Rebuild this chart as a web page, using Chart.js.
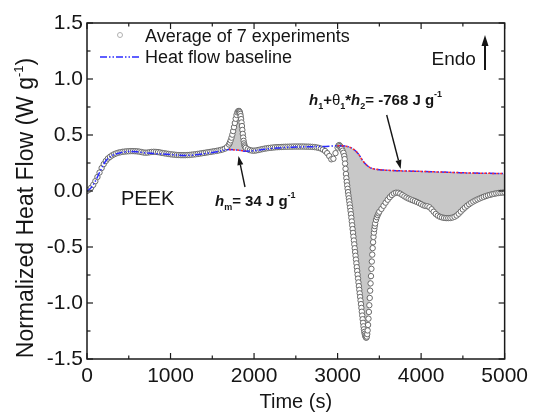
<!DOCTYPE html>
<html><head><meta charset="utf-8">
<script src="https://cdn.jsdelivr.net/npm/chart.js@4.4.1/dist/chart.umd.min.js"></script>
<style>html,body{margin:0;padding:0;background:#fff;}canvas{display:block;}</style>
</head><body>
<canvas id="c" width="533" height="412"></canvas>
<script>
// ---- data ----
const timeS = [
0,25,50,75,100,125,150,175,200,225,250,275,300,325,350,375,400,425,450,475,
500,525,550,575,600,625,650,675,700,725,750,775,800,825,850,875,900,925,950,975,
1000,1025,1050,1075,1100,1125,1150,1175,1200,1225,1250,1275,1300,1325,1350,1375,1400,1425,1450,1475,
1500,1525,1550,1575,1600,1625,1650,1675,1700,
1710,1720,1730,1740,1750,1760,1770,1780,1790,1800,1810,1820,
1825,1830,1835,1840,1845,1850,1855,1860,1865,1870,1875,1880,1885,1890,
1900,
1925,1950,1975,2000,2025,2050,2075,2100,2125,2150,2175,2200,2225,2250,2275,2300,2325,2350,2375,2400,
2425,2450,2475,2500,2525,2550,2575,2600,2625,2650,2675,2700,2725,2750,2775,2800,2825,2850,2875,2900,
2925,2950,2975,
3000,3010,3020,3030,3040,3050,3060,3070,
3080,3085,3090,3095,3100,3105,3110,3115,3120,3125,3130,3135,3140,3145,3150,3155,3160,3165,3170,3175,
3180,3185,3190,3195,3200,3205,3210,3215,3220,3225,3230,3235,3240,3245,3250,3255,3260,3265,3270,3275,
3280,3285,3290,3295,3300,3305,3310,3315,3320,3325,3330,3335,3340,3345,3350,3355,3360,3365,3370,3375,
3380,3385,3390,3395,3400,3405,3410,3415,3420,3425,3430,3435,3440,3445,3450,
3460,3470,3480,3490,3500,
3525,3550,3575,3600,3625,3650,3675,3700,3725,3750,3775,3800,3825,3850,3875,3900,3925,3950,3975,4000,
4025,4050,4075,4100,4125,4150,4175,4200,4225,4250,4275,4300,4325,4350,4375,4400,4425,4450,4475,4500,
4525,4550,4575,4600,4625,4650,4675,4700,4725,4750,4775,4800,4825,4850,4875,4900,4925,4950,4975,5000
];
const heatFlow = [
0.000,0.012,0.030,0.055,0.088,0.125,0.165,0.205,0.240,0.268,0.290,0.305,0.318,0.328,0.336,0.342,0.346,0.350,0.352,0.354,
0.355,0.356,0.356,0.355,0.354,0.352,0.348,0.344,0.342,0.343,0.346,0.349,0.350,0.349,0.347,0.344,0.340,0.337,0.334,0.331,
0.328,0.326,0.324,0.322,0.321,0.320,0.320,0.320,0.321,0.322,0.324,0.326,0.328,0.331,0.334,0.337,0.340,0.343,0.346,0.349,
0.352,0.355,0.358,0.362,0.366,0.371,0.378,0.392,0.415,
0.432,0.452,0.476,0.503,0.535,0.570,0.607,0.645,0.679,0.702,0.713,0.715,
0.710,0.702,0.688,0.668,0.642,0.612,0.580,0.545,0.510,0.477,0.448,0.425,0.408,0.397,
0.385,
0.373,0.365,0.361,0.360,0.362,0.366,0.370,0.374,0.378,0.381,0.384,0.386,0.388,0.390,0.391,0.392,0.393,0.394,0.395,0.395,
0.396,0.396,0.397,0.397,0.397,0.397,0.397,0.397,0.396,0.396,0.395,0.394,0.392,0.389,0.385,0.379,0.370,0.357,0.338,0.312,
0.283,0.288,0.338,
0.388,0.405,0.410,0.402,0.390,0.376,0.360,0.341,
0.312,0.285,0.245,0.198,0.152,0.115,0.082,0.050,0.020,-0.010,-0.038,-0.065,-0.092,-0.120,-0.148,-0.177,-0.207,-0.239,-0.272,-0.306,
-0.340,-0.374,-0.408,-0.442,-0.476,-0.511,-0.545,-0.578,-0.612,-0.646,-0.680,-0.714,-0.748,-0.782,-0.816,-0.849,-0.882,-0.914,-0.946,-0.978,
-1.010,-1.044,-1.078,-1.112,-1.145,-1.177,-1.208,-1.235,-1.258,-1.276,-1.290,-1.301,-1.308,-1.309,-1.300,-1.278,-1.245,-1.196,-1.140,-1.080,
-1.020,-0.955,-0.890,-0.825,-0.760,-0.695,-0.630,-0.568,-0.510,-0.457,-0.410,-0.372,-0.340,-0.313,-0.290,
-0.258,-0.234,-0.215,-0.199,-0.185,
-0.160,-0.132,-0.104,-0.078,-0.055,-0.036,-0.022,-0.015,-0.016,-0.024,-0.036,-0.048,-0.059,-0.068,-0.076,-0.083,-0.090,-0.098,-0.107,-0.117,
-0.127,-0.133,-0.136,-0.145,-0.163,-0.185,-0.205,-0.220,-0.230,-0.236,-0.240,-0.242,-0.242,-0.241,-0.237,-0.230,-0.219,-0.203,-0.184,-0.165,
-0.148,-0.132,-0.118,-0.105,-0.094,-0.084,-0.075,-0.067,-0.059,-0.052,-0.045,-0.039,-0.034,-0.029,-0.025,-0.021,-0.018,-0.016,-0.014,-0.013
];
const baseTime = [0,50,100,150,200,250,300,400,500,600,700,800,900,1000,1100,1200,1300,1400,1500,1600,1700,1800,1900,2000,2100,2200,2300,2400,2500,2600,2700,2800,2900,3000,3050,3100,3150,3200,3250,3300,3350,3400,3450,3500,3600,3700,3800,3900,4000,4200,4400,4600,4800,5000];
const baseFlow = [0.000,0.030,0.088,0.165,0.240,0.290,0.316,0.342,0.352,0.350,0.340,0.335,0.330,0.325,0.320,0.318,0.323,0.333,0.344,0.358,0.370,0.365,0.356,0.360,0.370,0.380,0.385,0.390,0.392,0.395,0.396,0.397,0.400,0.405,0.405,0.400,0.390,0.368,0.330,0.272,0.230,0.205,0.195,0.190,0.185,0.181,0.179,0.177,0.175,0.170,0.165,0.160,0.158,0.155];
const fillRanges = [[1700,1900],[3000,5000]];
const redRanges = [[1700,1950],[3000,5000]];
const seriesNames = ['Average of 7 experiments','Heat flow baseline'];
const xTickValues = [0,1000,2000,3000,4000,5000];
const xTickLabels = ['0','1000','2000','3000','4000','5000'];
const yTickValues = [-1.5,-1.0,-0.5,0.0,0.5,1.0,1.5];
const yTickLabels = ['-1.5','-1.0','-0.5','0.0','0.5','1.0','1.5'];

// ---- derived tables ----
const inRanges = (t, rs) => rs.some(r => t >= r[0] && t <= r[1]);
const pts = timeS.map((t, i) => ({x: t, y: heatFlow[i]}));
const basePts = baseTime.map((t, i) => ({x: t, y: baseFlow[i]}));
const fillPts = timeS.map((t, i) => ({x: t, y: inRanges(t, fillRanges) ? heatFlow[i] : null}));
const redPts = baseTime.map((t, i) => ({x: t, y: inRanges(t, redRanges) ? baseFlow[i] : null}));

const FONT = '"Liberation Sans", Arial, sans-serif';
const BLUE = '#2a2aff';
const DASH = [7,2,1.5,2,1.5,2];

function rich(ctx, x, y, parts) {
  let cx = x;
  for (const p of parts) {
    ctx.font = p.f;
    ctx.fillText(p.t, cx, y + (p.dy || 0));
    cx += ctx.measureText(p.t).width;
  }
}
function richWidth(ctx, parts) {
  let w = 0;
  for (const p of parts) { ctx.font = p.f; w += ctx.measureText(p.t).width; }
  return w;
}
function arrow(ctx, x1, y1, x2, y2, hl, hw, lw) {
  const a = Math.atan2(y2 - y1, x2 - x1);
  const bx = x2 - hl * Math.cos(a), by = y2 - hl * Math.sin(a);
  ctx.lineWidth = lw;
  ctx.beginPath(); ctx.moveTo(x1, y1); ctx.lineTo(bx, by); ctx.stroke();
  ctx.beginPath();
  ctx.moveTo(x2, y2);
  ctx.lineTo(bx + hw / 2 * Math.sin(a), by - hw / 2 * Math.cos(a));
  ctx.lineTo(bx - hw / 2 * Math.sin(a), by + hw / 2 * Math.cos(a));
  ctx.closePath(); ctx.fill();
}

const decor = {
  id: 'decor',
  afterDatasetsDraw(chart) {
    const {ctx, chartArea: a, scales: {x, y}} = chart;
    ctx.save();
    ctx.strokeStyle = '#1a1a1a';
    ctx.lineWidth = 1.5;
    ctx.strokeRect(a.left, a.top, a.right - a.left, a.bottom - a.top);
    ctx.lineWidth = 1.2;
    const xMinor = xTickValues.slice(1).map((v, i) => (v + xTickValues[i]) / 2);
    const yMinor = yTickValues.slice(1).map((v, i) => (v + yTickValues[i]) / 2);
    const seg = (x1, y1, x2, y2) => { ctx.beginPath(); ctx.moveTo(x1, y1); ctx.lineTo(x2, y2); ctx.stroke(); };
    xTickValues.forEach(v => { const p = x.getPixelForValue(v); seg(p, a.bottom, p, a.bottom - 6); seg(p, a.top, p, a.top + 6); });
    xMinor.forEach(v => { const p = x.getPixelForValue(v); seg(p, a.bottom, p, a.bottom - 3.5); seg(p, a.top, p, a.top + 3.5); });
    yTickValues.forEach(v => { const p = y.getPixelForValue(v); seg(a.left, p, a.left + 6, p); seg(a.right, p, a.right - 6, p); });
    yMinor.forEach(v => { const p = y.getPixelForValue(v); seg(a.left, p, a.left + 3.5, p); seg(a.right, p, a.right - 3.5, p); });
    ctx.restore();
  },
  afterDraw(chart) {
    const {ctx, chartArea: a} = chart;
    ctx.save();
    ctx.textBaseline = 'alphabetic';
    ctx.textAlign = 'left';
    // legend
    ctx.beginPath(); ctx.arc(120, 35, 2.5, 0, Math.PI * 2);
    ctx.fillStyle = '#fff'; ctx.fill(); ctx.lineWidth = 1; ctx.strokeStyle = '#b0b0b0'; ctx.stroke();
    ctx.save(); ctx.strokeStyle = BLUE; ctx.lineWidth = 1.5; ctx.setLineDash(DASH);
    ctx.beginPath(); ctx.moveTo(100, 57); ctx.lineTo(140, 57); ctx.stroke(); ctx.restore();
    ctx.fillStyle = '#151515'; ctx.strokeStyle = '#151515';
    ctx.font = '18px ' + FONT;
    ctx.fillText(seriesNames[0], 145, 41.5);
    ctx.fillText(seriesNames[1], 145, 63.3);
    // Endo
    ctx.font = '19px ' + FONT;
    ctx.fillText('Endo', 431.5, 65);
    arrow(ctx, 485, 70, 485, 35, 11, 7, 2);
    // PEEK
    ctx.font = '20px ' + FONT;
    ctx.fillText('PEEK', 121, 205);
    // annotations
    const B = 'bold 15px ' + FONT, BI = 'italic bold 15px ' + FONT, S = 'bold 9px ' + FONT, N = '15px ' + FONT;
    rich(ctx, 215, 206, [{t:'h', f:BI}, {t:'m', f:S, dy:4}, {t:'= 34 J g', f:B}, {t:'-1', f:S, dy:-8}]);
    arrow(ctx, 245, 187, 238.5, 156, 9, 6, 1.4);
    rich(ctx, 309, 105, [{t:'h', f:BI}, {t:'1', f:S, dy:4}, {t:'+', f:B}, {t:'\u03b8', f:N}, {t:'1', f:S, dy:4}, {t:'*', f:B}, {t:'h', f:BI}, {t:'2', f:S, dy:4}, {t:'= -768 J g', f:B}, {t:'-1', f:S, dy:-8}]);
    arrow(ctx, 386.7, 115, 400.7, 169, 9, 6, 1.4);
    // axis titles
    ctx.font = '20px ' + FONT;
    ctx.textAlign = 'center';
    ctx.fillText('Time (s)', (a.left + a.right) / 2, 408);
    ctx.textAlign = 'left';
    const yParts = [{t:'Normalized Heat Flow (W g', f:'23px ' + FONT}, {t:'-1', f:'13px ' + FONT, dy:-10}, {t:')', f:'23px ' + FONT}];
    const w = richWidth(ctx, yParts);
    ctx.translate(33, 208);
    ctx.rotate(-Math.PI / 2);
    rich(ctx, -w / 2, 0, yParts);
    ctx.restore();
  }
};

new Chart(document.getElementById('c'), {
  type: 'scatter',
  data: {
    datasets: [
      {label: seriesNames[0], data: pts, showLine: false, pointRadius: 2.7, pointBorderWidth: 1,
       pointBorderColor: '#6a6a6a', pointBackgroundColor: '#ffffff', order: 2},
      {label: seriesNames[1], data: basePts, showLine: true, pointRadius: 0, borderColor: BLUE, borderWidth: 1.5,
       borderDash: DASH, cubicInterpolationMode: 'monotone', order: 1},
      {label: 'red', data: redPts, showLine: true, pointRadius: 0, borderColor: '#ff2a2a', borderWidth: 1.5,
       borderDash: [2,2], cubicInterpolationMode: 'monotone', spanGaps: false, order: 0},
      {label: 'fill', data: fillPts, showLine: true, pointRadius: 0, borderColor: 'rgba(0,0,0,0)', borderWidth: 0,
       backgroundColor: '#c8c8c8', fill: 1, spanGaps: false, order: 3}
    ]
  },
  options: {
    responsive: false, animation: false, events: [], devicePixelRatio: 1,
    layout: {padding: {top: 23, right: 27, left: 0, bottom: 0}},
    plugins: {legend: {display: false}, tooltip: {enabled: false}, filler: {propagate: false}},
    scales: {
      x: {type: 'linear', min: 0, max: 5000,
        afterBuildTicks: s => { s.ticks = xTickValues.map(v => ({value: v})); },
        afterFit: s => { s.height = 53; },
        grid: {display: false, drawTicks: false}, border: {display: false},
        ticks: {callback: (v, i) => xTickLabels[i], font: {family: FONT, size: 21}, color: '#151515', padding: 5, maxRotation: 0, autoSkip: false}},
      y: {type: 'linear', min: -1.5, max: 1.5,
        afterBuildTicks: s => { s.ticks = yTickValues.map(v => ({value: v})); },
        afterFit: s => { s.width = 87; },
        grid: {display: false, drawTicks: false}, border: {display: false},
        ticks: {callback: (v, i) => yTickLabels[i], font: {family: FONT, size: 21}, color: '#151515', padding: 4, autoSkip: false}}
    }
  },
  plugins: [decor]
});
</script>
</body></html>
